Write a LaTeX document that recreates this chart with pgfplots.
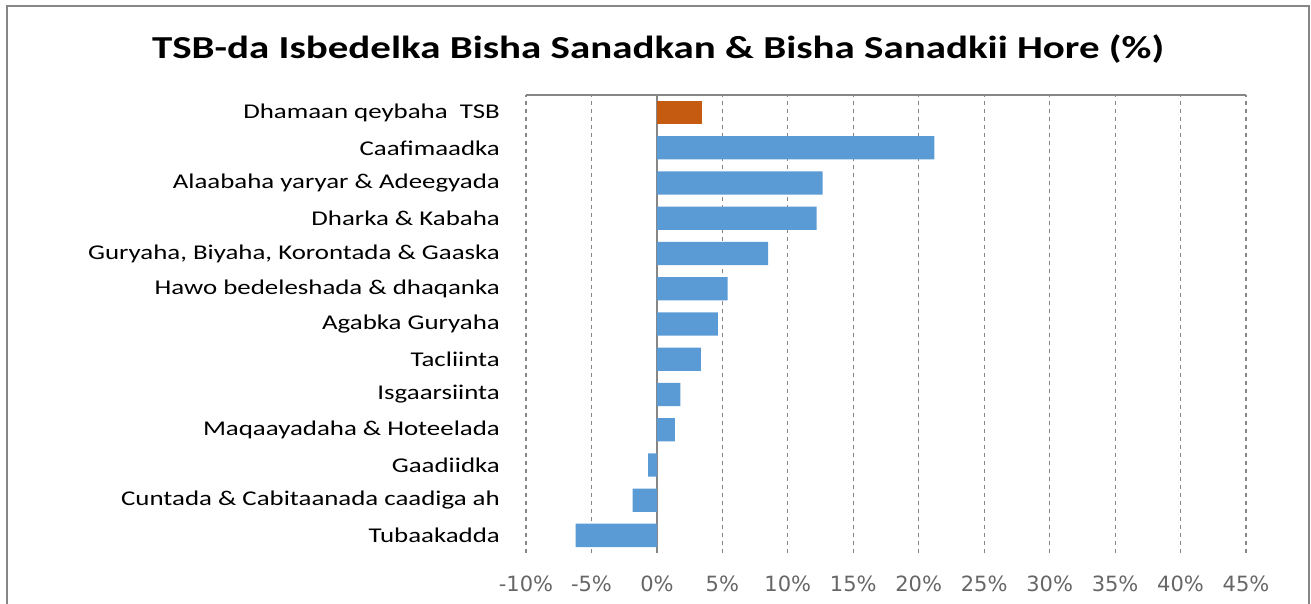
\documentclass[border=0pt]{standalone}
\usepackage{fontspec}
\setmainfont{Carlito}[FakeStretch=1.28]
\newfontfamily\dejavu{DejaVu Sans}
\usepackage{pgfplots}
\pgfplotsset{compat=1.18}
\definecolor{barblue}{HTML}{5B9BD5}
\definecolor{barorange}{HTML}{C55A11}
\definecolor{gridgray}{HTML}{868686}
\definecolor{ticktext}{HTML}{666666}
\begin{document}
\begin{tikzpicture}[x=1pt,y=1pt]
\useasboundingbox (0,0) rectangle (1311,-604);
\draw[color=gridgray, line width=2pt] (7,-620) -- (7,-6) -- (1309,-6) -- (1309,-620);
\node[font=\bfseries\fontsize{32}{38}\selectfont, anchor=base] at (658,-59) {TSB-da Isbedelka Bisha Sanadkan \& Bisha Sanadkii Hore (\%)};
\begin{axis}[at={(526pt,-553pt)}, anchor=south west, scale only axis, width=720pt, height=458pt,
 xmin=-10, xmax=45, ymin=-0.5, ymax=12.5,
 axis line style={draw=none},
 xtick={-10,-5,0,5,10,15,20,25,30,35,40,45},
 xticklabels={-10\%,-5\%,0\%,5\%,10\%,15\%,20\%,25\%,30\%,35\%,40\%,45\%},
 ytick={0,1,2,3,4,5,6,7,8,9,10,11,12},
 yticklabels={Tubaakadda,Cuntada \& Cabitaanada caadiga ah,Gaadiidka,Maqaayadaha \& Hoteelada,Isgaarsiinta,Tacliinta,Agabka Guryaha,Hawo bedeleshada \& dhaqanka,{Guryaha, Biyaha, Korontada \& Gaaska},Dharka \& Kabaha,Alaabaha yaryar \& Adeegyada,Caafimaadka,Dhamaan qeybaha\ \ TSB},
 major tick length=0pt,
 xmajorgrids, grid style={gridgray, line width=1.1pt, dash pattern=on 4pt off 4pt},
 extra x ticks={0}, extra x tick labels={},
 extra x tick style={grid style={solid, gridgray, line width=1.5pt}},
 xticklabel style={font=\dejavu\fontsize{21}{24}\selectfont, text=ticktext, anchor=north, inner sep=0pt, yshift=-23pt},
 yticklabel style={font=\fontsize{21}{25}\selectfont, anchor=east, inner sep=0pt, xshift=-26pt},
 xbar, bar width=23.3pt, bar shift=0pt, clip=false
]
\addplot[fill=barblue, draw=none] coordinates {(-6.2,0) (-1.86,1) (-0.67,2) (1.38,3) (1.8,4) (3.35,5) (4.65,6) (5.4,7) (8.5,8) (12.2,9) (12.66,10) (21.2,11)};
\addplot[fill=barorange, draw=none] coordinates {(3.45,12)};
\draw[gridgray, line width=1.5pt] (axis cs:-10,12.5) -- (axis cs:45,12.5);
\end{axis}
\end{tikzpicture}
\end{document}
